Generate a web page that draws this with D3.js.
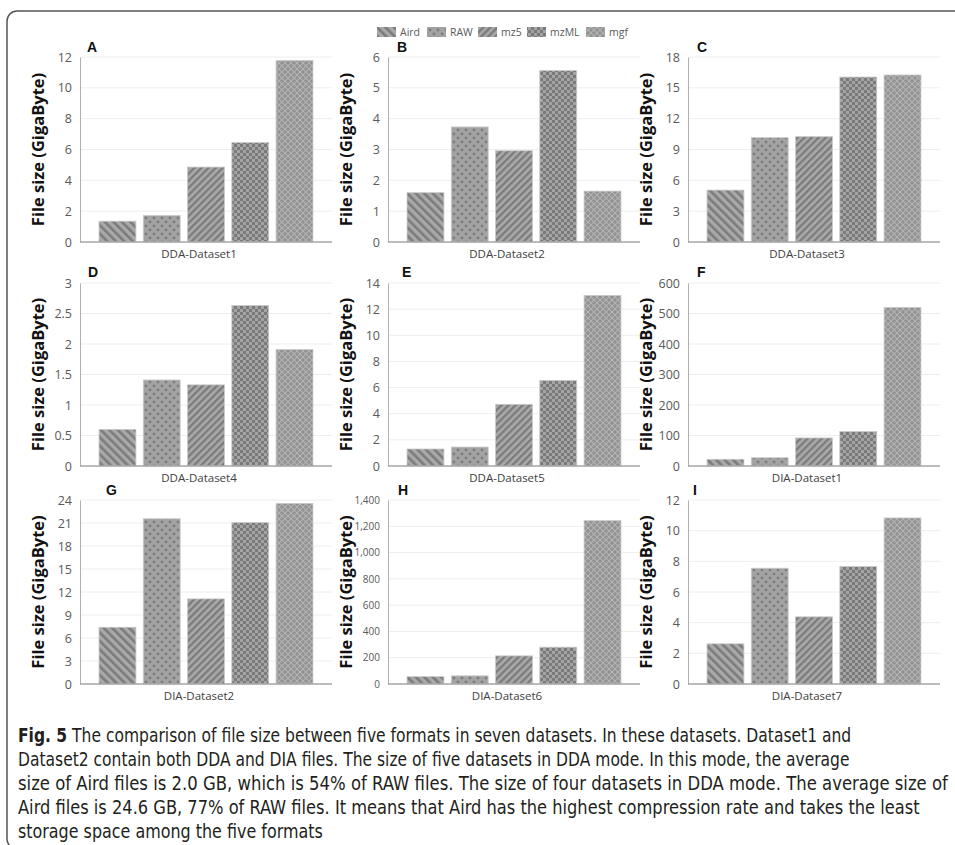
<!DOCTYPE html>
<html><head><meta charset="utf-8">
<script src="https://cdn.jsdelivr.net/npm/d3@7"></script>
<style>
body{margin:0;background:#fff;}
svg{display:block;}
</style></head>
<body><svg id="chart" width="955" height="845"></svg>
<script>
// ---------- data ----------
const formats = ["Aird", "RAW", "mz5", "mzML", "mgf"];
const panelLetters = ["A", "B", "C", "D", "E", "F", "G", "H", "I"];
const datasetNames = ["DDA-Dataset1", "DDA-Dataset2", "DDA-Dataset3", "DDA-Dataset4", "DDA-Dataset5",
                      "DIA-Dataset1", "DIA-Dataset2", "DIA-Dataset6", "DIA-Dataset7"];
const sizeDDA1 = [1.35, 1.72, 4.86, 6.45, 11.78];
const sizeDDA2 = [1.6, 3.73, 2.96, 5.56, 1.65];
const sizeDDA3 = [5.05, 10.15, 10.25, 16.05, 16.25];
const sizeDDA4 = [0.6, 1.41, 1.33, 2.63, 1.91];
const sizeDDA5 = [1.3, 1.45, 4.72, 6.55, 13.05];
const sizeDIA1 = [22, 27, 92, 113, 520];
const sizeDIA2 = [7.4, 21.55, 11.1, 21.05, 23.55];
const sizeDIA6 = [56, 62, 214, 280, 1243];
const sizeDIA7 = [2.62, 7.55, 4.38, 7.66, 10.83];
const yMaxes = [12, 6, 18, 3, 14, 600, 24, 1400, 12];
const ySteps = [2, 1, 3, 0.5, 2, 100, 3, 200, 2];
const yTitle = "File size (GigaByte)";
const captionBold = "Fig. 5";
const captionLines = [
  "  The comparison of file size between five formats in seven datasets. In these datasets. Dataset1 and",
  "Dataset2 contain both DDA and DIA files. The size of five datasets in DDA mode. In this mode, the average",
  "size of Aird files is 2.0 GB, which is 54% of RAW files. The size of four datasets in DDA mode. The average size of",
  "Aird files is 24.6 GB, 77% of RAW files. It means that Aird has the highest compression rate and takes the least",
  "storage space among the five formats"
];
const allSizes = [sizeDDA1, sizeDDA2, sizeDDA3, sizeDDA4, sizeDDA5, sizeDIA1, sizeDIA2, sizeDIA6, sizeDIA7];

// ---------- layout ----------
const colAxisX = [80, 388, 688];
const rowTop = [57, 283, 500];
const rowZero = [242, 466, 684];
const plotW = 252;
const letterDX = [7, 9, 9, 8, 14, 9, 26, 10, 5];
const letterY = [47, 47, 47, 272, 272, 272, 490, 490, 490];
const font = "'Open Sans', 'Segoe UI', sans-serif";

const svg = d3.select("#chart");
const defs = svg.append("defs");

// ---------- patterns ----------
function stripes(id, angle, size, w) {
  const p = defs.append("pattern").attr("id", id).attr("patternUnits", "userSpaceOnUse")
    .attr("width", size).attr("height", size).attr("patternTransform", `rotate(${angle})`);
  p.append("rect").attr("width", size).attr("height", size).attr("fill", "#a9a9a9");
  p.append("rect").attr("width", w).attr("height", size).attr("fill", "#7b7b7b");
}
stripes("pat-Aird", -45, 6, 2.6);
stripes("pat-mz5", 45, 5, 2.3);
(function () {
  const p = defs.append("pattern").attr("id", "pat-RAW").attr("patternUnits", "userSpaceOnUse")
    .attr("width", 8).attr("height", 8);
  p.append("rect").attr("width", 8).attr("height", 8).attr("fill", "#a3a3a3");
  p.append("circle").attr("cx", 2).attr("cy", 2).attr("r", 1.4).attr("fill", "#7d7d7d");
  p.append("circle").attr("cx", 6).attr("cy", 6).attr("r", 1.4).attr("fill", "#7d7d7d");
})();
(function () {
  const p = defs.append("pattern").attr("id", "pat-mzML").attr("patternUnits", "userSpaceOnUse")
    .attr("width", 6).attr("height", 6);
  p.append("rect").attr("width", 6).attr("height", 6).attr("fill", "#a4a4a4");
  p.append("rect").attr("width", 3).attr("height", 3).attr("fill", "#7a7a7a");
  p.append("rect").attr("x", 3).attr("y", 3).attr("width", 3).attr("height", 3).attr("fill", "#7a7a7a");
})();
(function () {
  const p = defs.append("pattern").attr("id", "pat-mgf").attr("patternUnits", "userSpaceOnUse")
    .attr("width", 6).attr("height", 6);
  p.append("rect").attr("width", 6).attr("height", 6).attr("fill", "#929292");
  p.append("path").attr("d", "M0,0L6,6M6,0L0,6").attr("stroke", "#b4b4b4").attr("stroke-width", 1.1);
})();

// ---------- frame ----------
svg.append("rect").attr("x", 7).attr("y", 11).attr("width", 1000).attr("height", 838)
  .attr("rx", 10).attr("fill", "none").attr("stroke", "#555").attr("stroke-width", 1.5);

// ---------- legend ----------
const legendX = [377, 427, 478, 527, 586];
const legend = svg.append("g");
formats.forEach((f, i) => {
  legend.append("rect").attr("x", legendX[i]).attr("y", 27).attr("width", 19).attr("height", 10)
    .attr("fill", `url(#pat-${f})`);
  legend.append("text").attr("x", legendX[i] + 23).attr("y", 36).text(f)
    .attr("font-family", font).attr("font-size", 10.5).attr("fill", "#595959");
});

// ---------- panels ----------
allSizes.forEach((vals, k) => {
  const col = k % 3, row = Math.floor(k / 3);
  const x0 = colAxisX[col];
  const x = d3.scaleBand().domain(formats).range([x0, x0 + plotW]).paddingInner(0.167).paddingOuter(0.43);
  const y = d3.scaleLinear().domain([0, yMaxes[k]]).range([rowZero[row], rowTop[row]]);
  const ticks = d3.range(0, yMaxes[k] + ySteps[k] / 2, ySteps[k]);
  const g = svg.append("g");

  g.selectAll("line.grid").data(ticks.slice(1)).join("line")
    .attr("x1", x0).attr("x2", x0 + plotW).attr("y1", d => y(d)).attr("y2", d => y(d))
    .attr("stroke", "#eeeeee").attr("stroke-width", 1);

  const fmt = yMaxes[k] >= 1000 ? d3.format(",") : d3.format("");
  const ax = g.append("g").attr("transform", `translate(${x0},0)`)
    .call(d3.axisLeft(y).tickValues(ticks).tickSize(0).tickPadding(8).tickFormat(fmt));
  ax.select(".domain").attr("stroke", "#b0b0b0").attr("stroke-width", 1);
  ax.selectAll("text").attr("font-family", font).attr("font-size", yMaxes[k] >= 1000 ? 10 : 12.5)
    .attr("fill", "#595959");

  g.selectAll("rect.bar").data(vals).join("rect")
    .attr("x", (d, i) => x(formats[i])).attr("width", x.bandwidth())
    .attr("y", d => y(d)).attr("height", d => y(0) - y(d))
    .attr("fill", (d, i) => `url(#pat-${formats[i]})`)
    .attr("stroke", "#c9c9c9").attr("stroke-width", 0.8);

  g.append("line").attr("x1", x0).attr("x2", x0 + plotW).attr("y1", y(0)).attr("y2", y(0))
    .attr("stroke", "#a6a6a6").attr("stroke-width", 1.5);

  const cx = (x(formats[0]) + x(formats[4]) + x.bandwidth()) / 2 - 7;
  g.append("text").attr("x", cx).attr("y", y(0) + 16).attr("text-anchor", "middle")
    .text(datasetNames[k]).attr("font-family", font).attr("font-size", 11.5).attr("fill", "#404040");

  g.append("text").attr("transform", `translate(${x0 - 36},${(rowTop[row] + rowZero[row]) / 2}) rotate(-90)`)
    .attr("text-anchor", "middle").text(yTitle)
    .attr("font-family", font).attr("font-weight", "bold").attr("font-size", 16.5).attr("fill", "#111");

  g.append("text").attr("x", x0 + letterDX[k]).attr("y", letterY[k] + 5).text(panelLetters[k])
    .attr("font-family", "'Liberation Sans', Arial, sans-serif").attr("font-weight", "bold")
    .attr("font-size", 14).attr("fill", "#111");
});

// ---------- caption ----------
const capW = [834, 832, 930, 902];
const capFont = "'DejaVu Sans Condensed', 'Liberation Sans Narrow', sans-serif";
const capTexts = captionLines.map((line, i) => {
  const t = svg.append("text").attr("x", 0).attr("y", 0)
    .attr("font-family", capFont).attr("font-size", 19).attr("fill", "#231f20");
  if (i === 0) t.append("tspan").attr("font-weight", "bold").text(captionBold);
  t.append("tspan").text(line);
  return t;
});
const naturals = capTexts.map(t => t.node().getComputedTextLength());
const avgScale = d3.mean(capW.map((w, i) => w / naturals[i]));
capTexts.forEach((t, i) => {
  const s = i < capW.length ? capW[i] / naturals[i] : avgScale;
  t.attr("transform", `translate(18,${742 + i * 24}) scale(${s},1)`);
});
</script>
</body></html>
